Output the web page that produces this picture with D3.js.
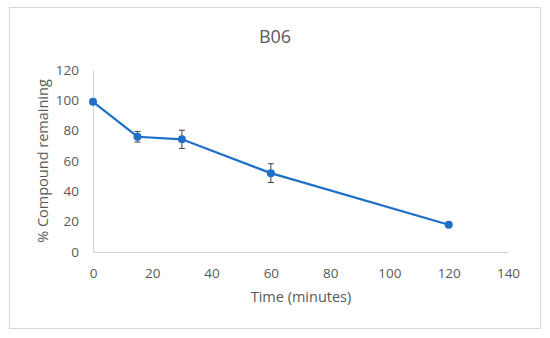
<!DOCTYPE html>
<html><head><meta charset="utf-8">
<script src="https://cdn.jsdelivr.net/npm/d3@7"></script>
<style>body{margin:0;background:#fff}</style>
</head><body>
<svg id="c" width="550" height="338"></svg>
<script>
const times = [0, 15, 30, 60, 120];
const remaining = [99, 76, 74.3, 52, 18];
const errors = [1.5, 3.5, 6, 6.2, 0.8];
const xTicks = [0, 20, 40, 60, 80, 100, 120, 140];
const yTicks = [0, 20, 40, 60, 80, 100, 120];
const title = "B06";
const xLabel = "Time (minutes)";
const yLabel = "% Compound remaining";

const svg = d3.select("#c");
const font = "'Open Sans', sans-serif";
const txt = "#595959";
svg.append("rect").attr("x", 9.5).attr("y", 7.5).attr("width", 531).attr("height", 321)
  .attr("fill", "#fff").attr("stroke", "#d9d9d9");

const x = d3.scaleLinear().domain([0, 140]).range([93, 508]);
const y = d3.scaleLinear().domain([0, 120]).range([252, 70]);

svg.append("text").attr("x", 275).attr("y", 43).attr("text-anchor", "middle")
  .attr("font-family", font).attr("font-size", 18).attr("fill", txt).text(title);

const xa = svg.append("g").attr("transform", "translate(0,252)")
  .call(d3.axisBottom(x).tickValues(xTicks).tickSize(0).tickPadding(16));
const ya = svg.append("g").attr("transform", "translate(93,0)")
  .call(d3.axisLeft(y).tickValues(yTicks).tickSize(0).tickPadding(14));
[xa, ya].forEach(a => {
  a.select(".domain").attr("stroke", "#d0d0d0").attr("stroke-width", 1);
  a.selectAll("text").attr("font-family", font).attr("font-size", 13.5).attr("fill", txt);
});

svg.append("text").attr("x", 301).attr("y", 302).attr("text-anchor", "middle")
  .attr("font-family", font).attr("font-size", 14.5).attr("fill", txt).text(xLabel);
svg.append("text").attr("transform", "translate(48,161) rotate(-90)").attr("text-anchor", "middle")
  .attr("font-family", font).attr("font-size", 14.5).attr("fill", txt).text(yLabel);

const data = times.map((t, i) => ({t, v: remaining[i], e: errors[i]}));
const blue = "#1f6fc8";
svg.append("path").datum(data)
  .attr("d", d3.line().x(d => x(d.t)).y(d => y(d.v)))
  .attr("fill", "none").attr("stroke", blue).attr("stroke-width", 2.2);

const eb = svg.append("g").attr("stroke", "#404040").attr("stroke-width", 1);
data.forEach(d => {
  const cx = x(d.t), y1 = y(d.v + d.e), y2 = y(d.v - d.e);
  eb.append("line").attr("x1", cx).attr("x2", cx).attr("y1", y1).attr("y2", y2);
  eb.append("line").attr("x1", cx - 3).attr("x2", cx + 3).attr("y1", y1).attr("y2", y1);
  eb.append("line").attr("x1", cx - 3).attr("x2", cx + 3).attr("y1", y2).attr("y2", y2);
});
svg.append("g").selectAll("circle").data(data).join("circle")
  .attr("cx", d => x(d.t)).attr("cy", d => y(d.v)).attr("r", 4).attr("fill", blue);
</script>
</body></html>
